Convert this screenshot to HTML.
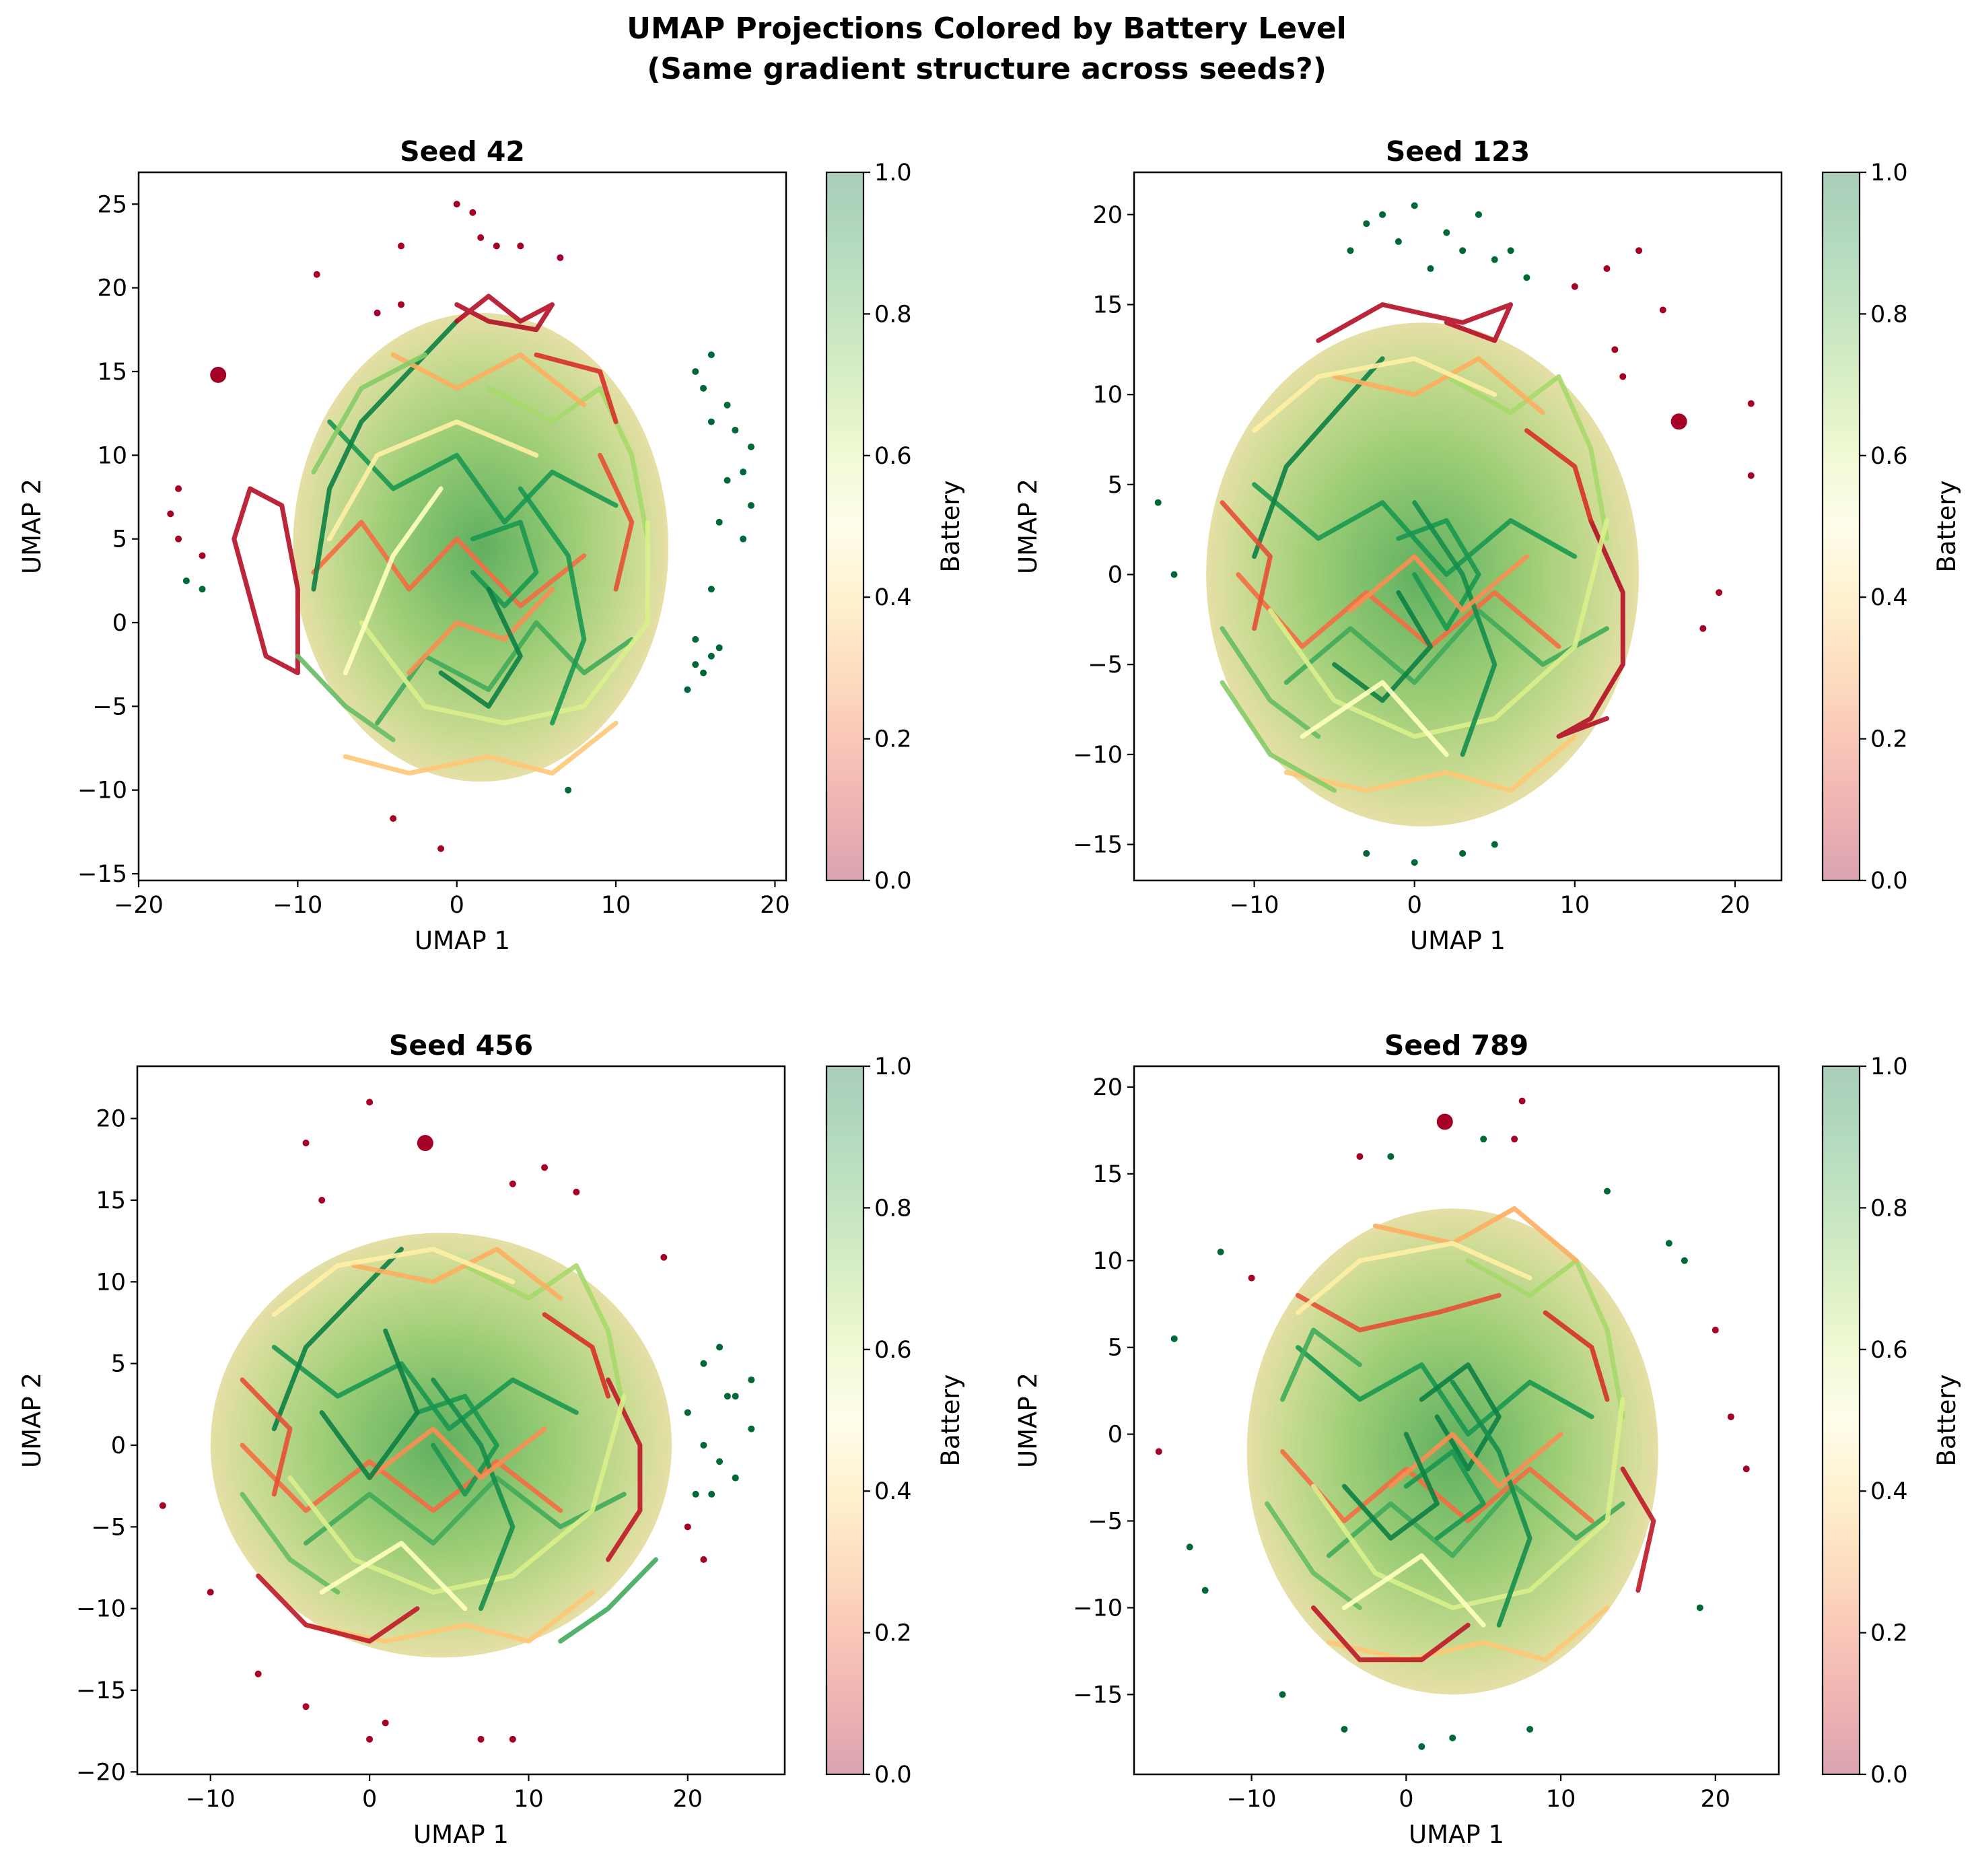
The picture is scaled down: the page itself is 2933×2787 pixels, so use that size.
<!DOCTYPE html>
<html><head><meta charset="utf-8"><style>
html,body{margin:0;padding:0;background:#fff;}
svg text{font-family:"DejaVu Sans","Liberation Sans",sans-serif;fill:#000;}
</style></head><body>
<svg id="fig" xmlns="http://www.w3.org/2000/svg" width="2933" height="2782" viewBox="0 0 2933 2782">
<defs>
<linearGradient id="cbar" x1="0" y1="1" x2="0" y2="0">
<stop offset="0" stop-color="#dba3b1"/><stop offset="0.1" stop-color="#eeb3b2"/>
<stop offset="0.2" stop-color="#fac7b8"/><stop offset="0.3" stop-color="#fddfc0"/>
<stop offset="0.4" stop-color="#fff1cf"/><stop offset="0.5" stop-color="#fffdeb"/>
<stop offset="0.6" stop-color="#f0f9d4"/><stop offset="0.7" stop-color="#dbefc6"/>
<stop offset="0.8" stop-color="#c4e5c0"/><stop offset="0.9" stop-color="#b3d9bf"/>
<stop offset="1" stop-color="#a9cdb8"/></linearGradient>
<radialGradient id="cloudGrad"><stop offset="0" stop-color="#5fb060"/><stop offset="0.5" stop-color="#9ccd76"/><stop offset="0.85" stop-color="#cddc95"/><stop offset="1" stop-color="#e6dfa6"/></radialGradient>
</defs>
<text x="1466" y="57" font-size="44" font-weight="bold" text-anchor="middle">UMAP Projections Colored by Battery Level</text>
<text x="1466" y="117" font-size="44" font-weight="bold" text-anchor="middle">(Same gradient structure across seeds?)</text>
<g id="panels"></g>
</svg>
<script>
// ---- data ----
const panelTitles = ["Seed 42","Seed 123","Seed 456","Seed 789"];
const xLims = [[-20,20.7],[-17.5,22.9],[-14.6,26.1],[-17.6,24.1]];
const yLims = [[-15.4,26.9],[-17,22.35],[-20.15,23.2],[-19.6,21.2]];
const xTicks = [[-20,-10,0,10,20],[-10,0,10,20],[-10,0,10,20],[-10,0,10,20]];
const yTicks = [[-15,-10,-5,0,5,10,15,20,25],[-15,-10,-5,0,5,10,15,20],[-20,-15,-10,-5,0,5,10,15,20],[-15,-10,-5,0,5,10,15,20]];
const cbTicks = [0,0.2,0.4,0.6,0.8,1.0];
const cloudX = [1.5,0.5,4.5,3];
const cloudY = [4.5,0,0,-1];
const cloudRX = [11.8,13.5,14.5,13.3];
const cloudRY = [14,14,13,14];
// strokes: [battery, x1,y1, x2,y2, ...]
const strokes0 = [
[0.9,-8,12,-4,8,0,10,3,6,6,9,10,7],[0.85,-5,-6,-2,-2,2,-4,5,0,8,-3,11,-1],[0.2,-9,3,-6,6,-3,2,0,5,4,1,8,4],
[0.35,-7,-8,-3,-9,2,-8,6,-9,10,-6],[0.95,0,18,-3,15,-6,12,-8,8,-9,2],[0.7,2,14,6,12,9,14,11,10,12,5],
[0.03,-13,8,-11,7,-10,2,-10,-3,-12,-2,-14,5,-13,8],[0.03,0,18,2,19.5,4,18,6,19,5,17.5,2,18,0,19],
[0.9,1,3,3,1,5,3,4,6,1,5],[0.6,-6,0,-2,-5,3,-6,8,-5,12,0,12,6],[0.3,-4,16,0,14,4,16,8,13],
[0.8,-10,-2,-7,-5,-4,-7],[0.15,9,10,11,6,10,2],[0.45,-8,5,-5,10,0,12,5,10],[0.9,6,-6,8,-1,7,4,4,8],
[0.25,-3,-3,0,0,3,-1,6,2],[0.75,-9,9,-6,14,-2,16],[0.1,5,16,9,15,10,12],[0.95,2,2,4,-2,2,-5,-1,-3],[0.5,-7,-3,-4,4,-1,8]];
const strokes1 = [
[0.9,-10,5,-6,2,-2,4,2,0,6,3,10,1],[0.85,-8,-6,-4,-3,0,-6,4,-2,8,-5,12,-3],[0.2,-11,0,-7,-4,-3,-1,1,-4,5,-1,9,-4],
[0.35,-8,-11,-3,-12,2,-11,6,-12,10,-9],[0.95,-2,12,-5,9,-8,6,-10,1],[0.7,2,11,6,9,9,11,11,7,12,2],
[0.03,11,3,13,-1,13,-5,11,-8,9,-9,12,-8],[0.03,-6,13,-2,15,3,14,6,15,5,13,2,14],
[0.9,0,0,2,-3,4,0,2,3,-1,2],[0.6,-9,-2,-5,-7,0,-9,5,-8,10,-4,12,3],[0.3,-5,11,0,10,4,12,8,9],
[0.8,-12,-3,-9,-7,-6,-9],[0.15,-12,4,-9,1,-10,-3],[0.45,-10,8,-6,11,0,12,5,10],[0.92,3,-10,5,-5,3,0,0,4],
[0.25,-4,-2,0,1,3,-2,7,1],[0.75,-12,-6,-9,-10,-5,-12],[0.1,7,8,10,6,11,3],[0.95,-1,-1,1,-4,-2,-7,-5,-5],[0.5,-7,-9,-2,-6,2,-10]];
const strokes2 = [
[0.9,-6,6,-2,3,2,5,5,1,9,4,13,2],[0.85,-4,-6,0,-3,4,-6,8,-2,12,-5,16,-3],[0.2,-8,0,-4,-4,0,-1,4,-4,8,-1,12,-4],
[0.35,-4,-11,1,-12,6,-11,10,-12,14,-9],[0.95,2,12,-1,9,-4,6,-6,1],[0.7,6,11,10,9,13,11,15,7,16,2],
[0.05,-7,-8,-4,-11,0,-12,3,-10],[0.05,15,4,17,0,17,-4,15,-7],[0.9,4,0,6,-3,8,0,6,3,3,2],
[0.6,-5,-2,-1,-7,4,-9,9,-8,14,-4,16,3],[0.3,-1,11,4,10,8,12,12,9],[0.8,-8,-3,-5,-7,-2,-9],[0.15,-8,4,-5,1,-6,-3],
[0.45,-6,8,-2,11,4,12,9,10],[0.92,7,-10,9,-5,7,0,4,4],[0.25,0,-2,4,1,7,-2,11,1],[0.85,12,-12,15,-10,18,-7],
[0.1,11,8,14,6,15,3],[0.95,1,7,3,2,0,-2,-3,2],[0.5,-3,-9,2,-6,6,-10]];
const strokes3 = [
[0.9,-7,5,-3,2,1,4,4,0,8,3,12,1],[0.85,-5,-7,-1,-4,3,-7,7,-3,11,-6,14,-4],[0.2,-8,-1,-4,-5,0,-2,4,-5,8,-2,12,-5],
[0.35,-5,-12,0,-13,5,-12,9,-13,13,-10],[0.95,2,1,4,-2,6,1,4,4,1,2],[0.7,4,10,8,8,11,10,13,6,14,1],
[0.05,-6,-10,-3,-13,1,-13,4,-11],[0.05,14,-2,16,-5,15,-9],[0.9,0,-3,3,-1,5,-4,2,-6],
[0.6,-6,-3,-2,-8,3,-10,8,-9,13,-5,14,2],[0.3,-2,12,3,11,7,13,11,10],[0.8,-9,-4,-6,-8,-3,-10],[0.15,-7,8,-3,6,2,7,6,8],
[0.45,-7,7,-3,10,3,11,8,9],[0.92,6,-11,8,-6,6,-1,3,3],[0.25,-1,-3,3,0,6,-3,10,0],[0.85,-8,2,-6,6,-3,4],
[0.1,9,7,12,5,13,2],[0.95,0,0,2,-4,-1,-6,-4,-3],[0.5,-4,-10,1,-7,5,-11]];
const outX0=[-15,-8.8,-3.5,0,1,1.5,2.5,4,6.5,-17.5,-17.5,-16,-4,-1,-18,15,16,15.5,17,16,17.5,18.5,18,17,16.5,18.5,18,16,15,16,15.5,14.5,16.5,15,-16,-17,7,-3.5,-5];
const outY0=[14.8,20.8,22.5,25,24.5,23,22.5,22.5,21.8,8,5,4,-11.7,-13.5,6.5,15,16,14,13,12,11.5,10.5,9,8.5,6,7,5,2,-1,-2,-3,-4,-1.5,-2.5,2,2.5,-10,19,18.5];
const outB0=[0,0,0,0,0,0,0,0,0,0,0,0,0,0,0,1,1,1,1,1,1,1,1,1,1,1,1,1,1,1,1,1,1,1,1,1,1,0,0];
const outX1=[16.5,10,15.5,14,12,21,21,18,19,13,12.5,-4,-3,-2,-1,0,1,2,3,4,5,6,7,-3,0,3,5,-16,-15];
const outY1=[8.5,16,14.7,18,17,9.5,5.5,-3,-1,11,12.5,18,19.5,20,18.5,20.5,17,19,18,20,17.5,18,16.5,-15.5,-16,-15.5,-15,4,0];
const outB1=[0,0,0,0,0,0,0,0,0,0,0,1,1,1,1,1,1,1,1,1,1,1,1,1,1,1,1,1,1];
const outX2=[3.5,0,-4,-3,9,11,13,18.5,20,21,22,23,24,21,22,23,20.5,22.5,24,21.5,23,-13,-10,-7,-4,1,7,9,0,20,21];
const outY2=[18.5,21,18.5,15,16,17,15.5,11.5,2,5,6,3,1,0,-1,-2,-3,3,4,-3,-2,-3.7,-9,-14,-16,-17,-18,-18,-18,-5,-7];
const outB2=[0,0,0,0,0,0,0,0,1,1,1,1,1,1,1,1,1,1,1,1,1,0,0,0,0,0,0,0,0,0,0];
const outX3=[2.5,7,7.5,-3,-16,-15,-12,-10,-13,21,22,18,20,-1,5,13,-4,1,8,-8,3,-14,19,17];
const outY3=[18,17,19.2,16,-1,5.5,10.5,9,-9,1,-2,10,6,16,17,14,-17,-18,-17,-15,-17.5,-6.5,-10,11];
const outB3=[0,0,0,0,0,1,1,0,1,0,0,1,0,1,1,1,1,1,1,1,1,1,1,1];
const allStrokes=[strokes0,strokes1,strokes2,strokes3];
const allOX=[outX0,outX1,outX2,outX3], allOY=[outY0,outY1,outY2,outY3], allOB=[outB0,outB1,outB2,outB3];

// ---- layout ----
const boxes=[[206,256,1168,1308],[1685,256,2647,1308],[204,1584,1166,2636],[1685,1584,2643,2636]];
const cbs=[[1228,1283],[2708,2763],[1228,1283],[2708,2763]];
const NS="http://www.w3.org/2000/svg";
const stops=["#a50026","#d73027","#f46d43","#fdae61","#fee08b","#ffffbf","#d9ef8b","#a6d96a","#66bd63","#1a9850","#006837"];
function hex(c){return [1,3,5].map(i=>parseInt(c.substr(i,2),16));}
function cmap(v){v=Math.max(0,Math.min(1,v))*10;const i=Math.min(9,Math.floor(v)),t=v-i;const a=hex(stops[i]),b=hex(stops[i+1]);
return "rgb("+a.map((x,k)=>Math.round(x+(b[k]-x)*t)).join(",")+")";}
function mk(tag,attrs,parent){const e=document.createElementNS(NS,tag);for(const k in attrs)e.setAttribute(k,attrs[k]);parent.appendChild(e);return e;}
const root=document.getElementById("panels");
for(let p=0;p<4;p++){
  const [x0,y0,x1,y1]=boxes[p],[xa,xb]=xLims[p],[ya,yb]=yLims[p];
  const sx=v=>x0+(v-xa)/(xb-xa)*(x1-x0), sy=v=>y1-(v-ya)/(yb-ya)*(y1-y0);
  const g=mk("g",{},root);
  
  
  const clip=mk("clipPath",{id:"clip"+p},g);mk("rect",{x:x0,y:y0,width:x1-x0,height:y1-y0},clip);
  const plot=mk("g",{"clip-path":"url(#clip"+p+")"},g);
  const cl=mk("ellipse",{cx:sx(cloudX[p]),cy:sy(cloudY[p]),rx:Math.abs(sx(cloudX[p]+cloudRX[p])-sx(cloudX[p])),ry:Math.abs(sy(cloudY[p]+cloudRY[p])-sy(cloudY[p])),fill:"url(#cloudGrad)"},plot);
  
  
  allStrokes[p].forEach((s,i)=>{
    let d="";for(let k=1;k<s.length;k+=2)d+=(k==1?"M":"L")+sx(s[k]).toFixed(1)+","+sy(s[k+1]).toFixed(1);
    const pa=mk("path",{d:d,fill:"none",stroke:cmap(s[0]),"stroke-width":7,"stroke-linejoin":"round","stroke-linecap":"round",opacity:0.9},plot);
    
    
  });
  allOX[p].forEach((v,i)=>{
    const c=mk("circle",{cx:sx(v),cy:sy(allOY[p][i]),r:i==0?12:5,fill:cmap(allOB[p][i])},plot);
    
    
  });
  const fr=mk("rect",{x:x0,y:y0,width:x1-x0,height:y1-y0,fill:"none",stroke:"#000","stroke-width":2.5},g);
  
  
  xTicks[p].forEach(t=>{const X=sx(t);mk("line",{x1:X,x2:X,y1:y1,y2:y1+10,stroke:"#000","stroke-width":2.2},g);
    const tx=mk("text",{x:X,y:y1+48,"font-size":35,"text-anchor":"middle"},g);tx.textContent=(t<0?"\u2212":"")+Math.abs(t);
    
    });
  yTicks[p].forEach(t=>{const Y=sy(t);mk("line",{x1:x0-10,x2:x0,y1:Y,y2:Y,stroke:"#000","stroke-width":2.2},g);
    const tx=mk("text",{x:x0-17,y:Y+12,"font-size":35,"text-anchor":"end"},g);tx.textContent=(t<0?"\u2212":"")+Math.abs(t);
    
    });
  const ti=mk("text",{x:(x0+x1)/2,y:y0-17,"font-size":41,"font-weight":"bold","text-anchor":"middle"},g);ti.textContent=panelTitles[p];
  
  
  const xl=mk("text",{x:(x0+x1)/2,y:y1+102,"font-size":37,"text-anchor":"middle"},g);xl.textContent="UMAP 1";
  
  
  const yl=mk("text",{x:0,y:0,"font-size":37,"text-anchor":"middle",transform:"translate("+(p%2?x0-145:60)+","+((y0+y1)/2)+") rotate(-90)"},g);yl.textContent="UMAP 2";
  
  
  const [c0,c1]=cbs[p];
  const cb=mk("rect",{x:c0,y:y0,width:c1-c0,height:y1-y0,fill:"url(#cbar)",stroke:"#000","stroke-width":2.2},g);
  
  
  cbTicks.forEach(t=>{const Y=y1-t*(y1-y0);mk("line",{x1:c1,x2:c1+10,y1:Y,y2:Y,stroke:"#000","stroke-width":2.2},g);
    const tx=mk("text",{x:c1+16,y:Y+12,"font-size":35},g);tx.textContent=t.toFixed(1);
    
    });
  const bl=mk("text",{x:0,y:0,"font-size":37,"text-anchor":"middle",transform:"translate("+(c1+142)+","+((y0+y1)/2)+") rotate(-90)"},g);bl.textContent="Battery";
  
  
}
</script>
</body></html>
